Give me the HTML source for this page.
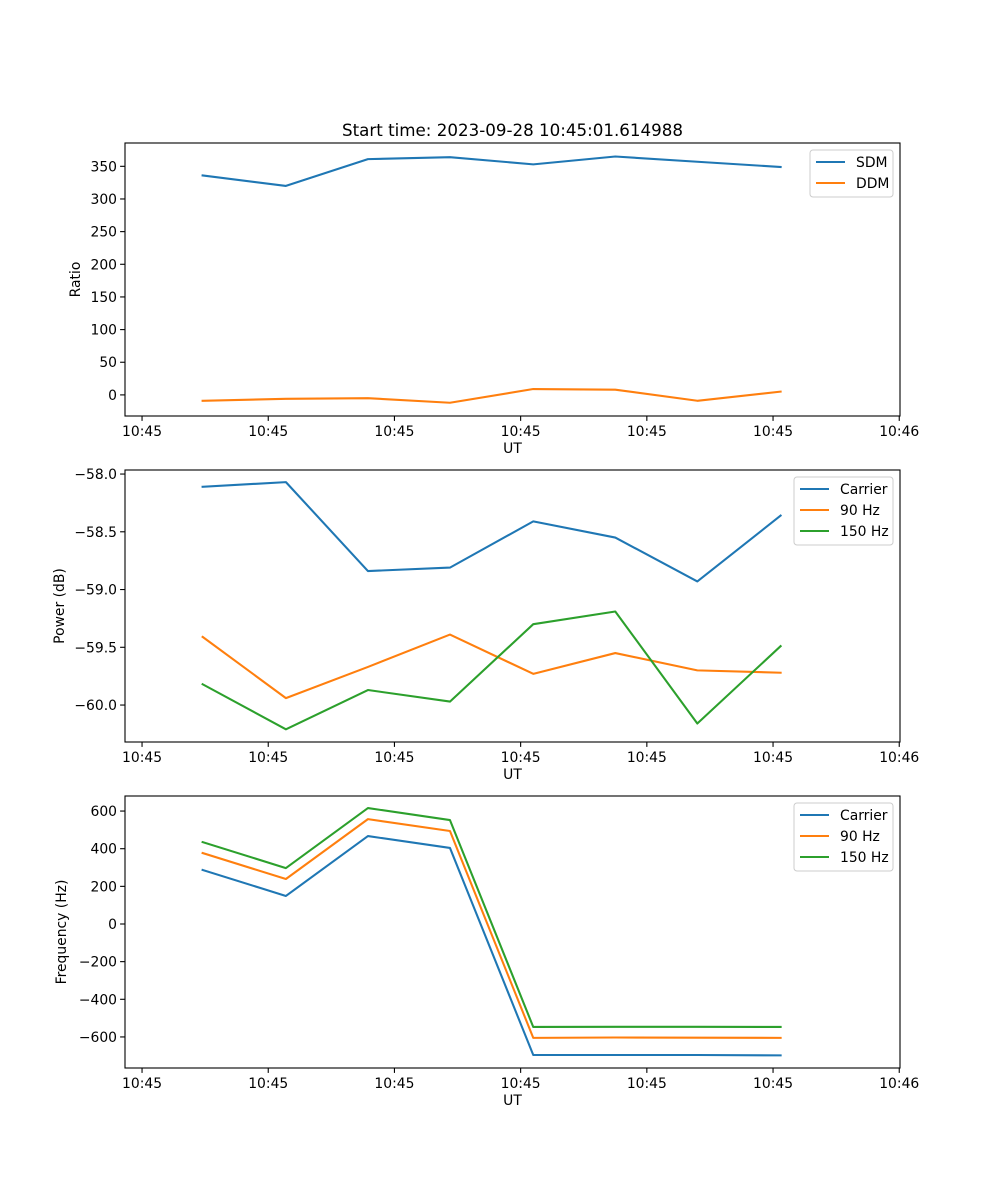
<!DOCTYPE html>
<html><head><meta charset="utf-8">
<style>
body{margin:0;background:#fff;}
svg{display:block;font-family:"DejaVu Sans","Liberation Sans",sans-serif;}
text{fill:#000;}
</style></head>
<body>
<svg id="fig" width="1000" height="1200" viewBox="0 0 1000 1200" xmlns="http://www.w3.org/2000/svg">
<rect width="1000" height="1200" fill="#fff"/>
<text x="512.5" y="136" font-size="16.7" text-anchor="middle">Start time: 2023-09-28 10:45:01.614988</text>
</svg>
<script>
// shared x data (seconds after 10:45:00)
const times = [4.8, 11.4, 17.9, 24.4, 31.0, 37.5, 44.0, 50.6];
const xTickVals = [0, 10, 20, 30, 40, 50, 60];
const xTickLabels = ["10:45","10:45","10:45","10:45","10:45","10:45","10:46"];
// panel 1
const sdm = [336, 320, 361, 364, 353, 365, 357, 349];
const ddm = [-9, -6, -5, -12, 9, 8, -9, 5];
const ratioTicks = [0, 50, 100, 150, 200, 250, 300, 350];
// panel 2
const powerCarrier = [-58.11, -58.07, -58.84, -58.81, -58.41, -58.55, -58.93, -58.36];
const power90 = [-59.41, -59.94, -59.67, -59.39, -59.73, -59.55, -59.70, -59.72];
const power150 = [-59.82, -60.21, -59.87, -59.97, -59.30, -59.19, -60.16, -59.49];
const powerTicks = [-58.0, -58.5, -59.0, -59.5, -60.0];
// panel 3
const freqCarrier = [287, 149, 467, 404, -696, -696, -696, -698];
const freq90 = [377, 239, 557, 494, -605, -603, -604, -605];
const freq150 = [435, 297, 616, 552, -547, -546, -546, -547];
const freqTicks = [-600, -400, -200, 0, 200, 400, 600];

const NS = "http://www.w3.org/2000/svg";
const svg = document.getElementById('fig');
const C = {blue:'#1f77b4', orange:'#ff7f0e', green:'#2ca02c'};
const L = 125, R = 900, xMin = -1.35, xMax = 60.06;
function xs(v){return L + (v - xMin)/(xMax - xMin)*(R-L);}
function mk(tag, attrs, parent){const e=document.createElementNS(NS,tag);for(const k in attrs)e.setAttribute(k,attrs[k]);(parent||svg).appendChild(e);return e;}

function panel(name, top, bottom, yMin, yMax, yTicks, yFmt, ylabel, ylabelX, series, legend){
  const g = mk('g',{});
  
  
  const ys = v => bottom - (v - yMin)/(yMax - yMin)*(bottom-top);
  series.forEach(s=>{
    const pts = times.map((t,i)=>xs(t).toFixed(2)+','+ys(s.vals[i]).toFixed(2)).join(' ');
    const p = mk('polyline',{points:pts,fill:'none',stroke:s.color,'stroke-width':2.08,'stroke-linejoin':'round','stroke-linecap':'square'},g);
    
    
  });
  const fr = mk('rect',{x:L,y:top,width:R-L,height:bottom-top,fill:'none',stroke:'#000','stroke-width':1.1},g);
  
  
  xTickVals.forEach((v,i)=>{
    const x = xs(v);
    mk('line',{x1:x,y1:bottom,x2:x,y2:bottom+4.9,stroke:'#000','stroke-width':1.1},g);
    const t = mk('text',{x:x,y:bottom+20,'font-size':13.9,'text-anchor':'middle'},g);
    t.textContent = xTickLabels[i];
    
    
  });
  const xl = mk('text',{x:(L+R)/2,y:bottom+37,'font-size':13.9,'text-anchor':'middle'},g);
  xl.textContent='UT';
  
  
  yTicks.forEach(v=>{
    const y = ys(v);
    mk('line',{x1:L-4.9,y1:y,x2:L,y2:y,stroke:'#000','stroke-width':1.1},g);
    const t = mk('text',{x:L-8,y:y+5,'font-size':13.9,'text-anchor':'end'},g);
    t.textContent = yFmt(v);
    
    
  });
  const cy=(top+bottom)/2;
  const yl = mk('text',{x:ylabelX,y:cy,'font-size':13.9,'text-anchor':'middle',transform:`rotate(-90 ${ylabelX} ${cy})`},g);
  yl.textContent = ylabel;
  
  
  const lg = mk('g',{},g);
  
  
  mk('rect',{x:legend.x,y:top+7,width:legend.w,height:series.length*21+5,rx:3,fill:'#fff','fill-opacity':0.8,stroke:'#ccc','stroke-width':1},lg);
  series.forEach((s,i)=>{
    const y = top+19+i*21;
    mk('line',{x1:legend.x+6,y1:y,x2:legend.x+35,y2:y,stroke:s.color,'stroke-width':2.08},lg);
    const t = mk('text',{x:legend.x+46,y:y+5,'font-size':13.9},lg);
    t.textContent = s.label;
    
    
  });
}
const fmt0 = v=>String(v).replace('-','\u2212');
const fmt1 = v=>v.toFixed(1).replace('-','\u2212');
panel('ratio-panel',143,416,-32.3,385.7,ratioTicks,fmt0,'Ratio',80,
  [{id:'sdm-line',vals:sdm,color:C.blue,label:'SDM'},{id:'ddm-line',vals:ddm,color:C.orange,label:'DDM'}],{x:810,w:83});
panel('power-panel',470,742,-60.32,-57.965,powerTicks,fmt1,'Power (dB)',64,
  [{id:'power-carrier-line',vals:powerCarrier,color:C.blue,label:'Carrier'},{id:'power-90hz-line',vals:power90,color:C.orange,label:'90 Hz'},{id:'power-150hz-line',vals:power150,color:C.green,label:'150 Hz'}],{x:794,w:99});
panel('frequency-panel',796,1068,-765,680,freqTicks,fmt0,'Frequency (Hz)',66,
  [{id:'freq-carrier-line',vals:freqCarrier,color:C.blue,label:'Carrier'},{id:'freq-90hz-line',vals:freq90,color:C.orange,label:'90 Hz'},{id:'freq-150hz-line',vals:freq150,color:C.green,label:'150 Hz'}],{x:794,w:99});
</script>
</body></html>
